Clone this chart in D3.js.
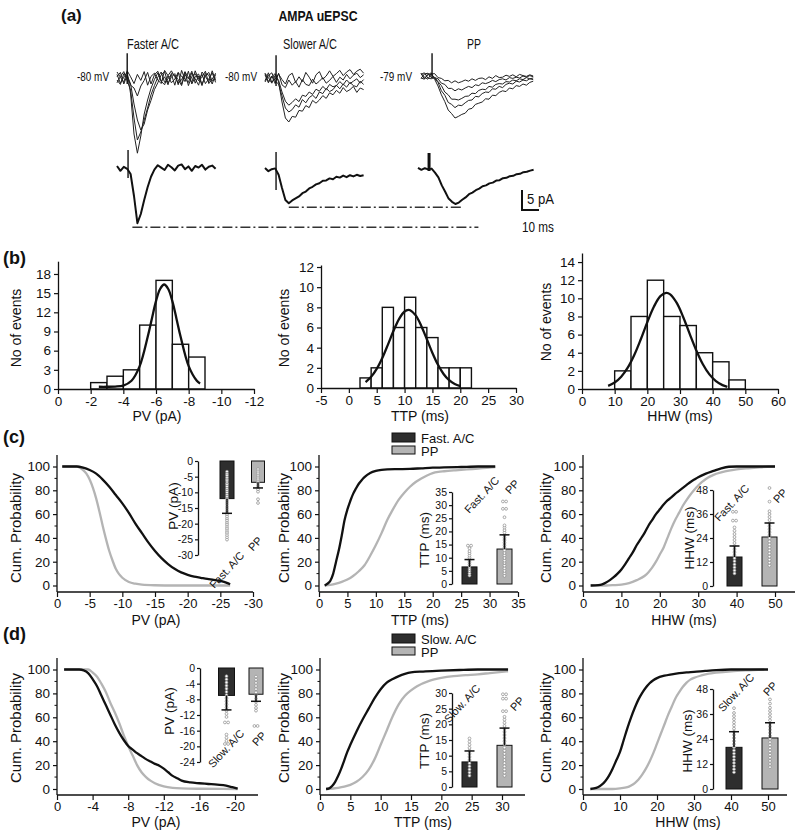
<!DOCTYPE html>
<html><head><meta charset="utf-8">
<script src="https://cdn.jsdelivr.net/npm/d3@7"></script>
<style>
body{margin:0;background:#fff;}
svg{display:block;font-family:"Liberation Sans",Arial,Helvetica,sans-serif;}
</style></head><body>
<svg id="chart" width="800" height="833"></svg>
<script>
// ================= DATA =================
// ---- (a) AMPA uEPSC traces: current (pA) sampled every 2 ms ----
const traceStepMs = 2;
const groupNames = ["Faster A/C", "Slower A/C", "PP"];
const holdingPotentials = ["-80 mV", "-80 mV", "-79 mV"];
const fasterTraces = [
  [0.9,-1.3,0.2,1.5,-4,-14,-18.8,-14.5,-9,-5.5,-2.6,-0.4,1.3,-0.8,-1.7,0.6,1.8,0.3,-1.2,-0.5,1.6,-1.9,0.4,1.1,-0.7,0.2,1.7,-1.4,-0.3,1.2],
  [-1.2,0.4,1.6,-0.7,-3,-10,-15.5,-13.5,-10.5,-7.5,-4.2,-1.9,0.2,1.5,-1.1,-0.2,0.9,-1.8,1.3,0.5,-0.9,1.7,-1.5,0.3,1,-1.6,0.6,1.4,-0.8,0.1],
  [0.3,1.4,-1.5,0.7,-1.5,-6.5,-10.5,-13,-11.5,-8,-5.6,-2.9,-1.2,0.8,1.6,-1.3,0.2,1.1,-1.7,1.9,-0.4,-1.1,1.3,-0.2,-1.8,1.5,0.4,-1,1.8,-0.6],
  [-0.5,-1.6,1.1,0.4,-1.8,-2.5,-4.5,-2,-0.6,1.4,-1.5,0.8,1.7,-0.9,0.3,-1.7,1.2,0.6,-0.4,-1.9,1.5,0.2,-1.1,1.8,-0.3,0.9,-1.4,-0.2,1.3,-1.1],
  [1.5,0.2,-1.1,1.8,0.3,-1.4,0.9,-0.6,1.6,-1.8,0.4,1.2,-0.5,-1.4,1.9,0.6,-1.2,-0.3,1.4,-1.6,0.8,-0.2,1.7,-1.3,0.5,-1.9,1.1,0.7,-1.5,0.9]
];
const fasterMean = [0.5,-0.7,0.3,-0.2,-1.5,-7,-13.8,-11.5,-8,-4.8,-2.2,-0.4,0.7,0.1,-0.5,0.8,0.2,-0.6,0.6,0.9,-0.3,0.4,-0.7,0.5,0.1,0.8,-0.4,0.3,0.6,-0.2];
const slowerTraces = [
  [0.8,-1.2,0.3,1.1,-1,-6,-10,-11,-9.6,-9.8,-8.1,-8.3,-6.9,-7.4,-5.6,-6.3,-5.5,-4.4,-5.1,-3.7,-4.2,-3.1,-3.8,-2.4,-3.4,-2.9,-2.1,-3.6,-2.5,-2.9],
  [-1,0.6,1.3,-0.8,-1.5,-4.5,-7.5,-8.5,-7.9,-6.7,-7.3,-5.4,-6.2,-4.9,-4.3,-5.1,-3.5,-3.9,-2.6,-3.4,-2.9,-1.8,-2.7,-1.5,-2.3,-1.1,-1.9,-2.2,-0.8,-1.6],
  [1.2,0.1,-1.3,0.7,-0.6,-3.5,-5.8,-6.8,-6.1,-5.2,-5.9,-4.3,-4.6,-3.5,-4.1,-2.8,-3.3,-2.1,-2.9,-1.6,-2.2,-1.9,-0.9,-1.7,-0.5,-1.4,-0.8,-0.2,-1.3,-0.4],
  [-0.7,1.3,-1.1,-0.2,1,-0.4,-1.5,0.6,1.2,-1.1,0.3,-0.9,1.4,0.2,-1.3,0.8,1.6,-0.3,0.5,1.8,0.4,1.1,1.9,0.6,1.5,2.1,0.9,1.7,2.2,1.2],
  [1.1,-0.9,0.5,-1.4,1.2,-1.7,-2.4,-0.5,-1.8,-0.9,-2.3,-0.4,-1.6,-1.9,-0.3,-1.5,-0.8,0.1,-1.3,-0.6,0.4,-1.1,0.2,-0.5,0.9,-0.2,0.7,1.2,0.1,0.8]
];
const slowerMean = [0.5,-0.3,0.2,0.4,-1.2,-4.5,-7.5,-8.3,-7.6,-7.1,-6.6,-5.8,-5.4,-4.6,-4.2,-3.6,-3.3,-2.7,-2.6,-2.1,-2.3,-1.7,-1.9,-1.4,-1.8,-1.3,-1.6,-1.2,-1.5,-1.3];
const ppTraces = [
  [0.6,-0.7,0.2,0.8,-0.8,-2.5,-4.7,-6.4,-8.5,-9.4,-10.5,-10.1,-9.6,-9.3,-8.3,-8.1,-7.1,-6.8,-6.5,-5.7,-5.8,-4.8,-4.9,-4.1,-3.7,-3.9,-3,-3.2,-2.4,-2.6,-2,-2.3,-1.6,-1.3],
  [-0.6,0.5,0.7,-0.4,-0.6,-1.6,-3.7,-4.8,-6.6,-7.1,-7.9,-7.3,-7.4,-6.7,-6.1,-6,-5.1,-5.2,-4.4,-4,-4.1,-3.2,-3.3,-2.6,-2.9,-2.1,-1.8,-2,-1.3,-1.5,-1,-1.2,-0.7,-0.9],
  [0.4,0.8,-0.5,-0.7,-0.3,-1.4,-2.4,-4,-4.7,-5.8,-5.8,-6,-5.6,-5.1,-5,-4.3,-4.4,-3.6,-3.3,-3.4,-2.6,-2.8,-2.1,-1.9,-2,-1.4,-1.5,-1,-1.2,-0.7,-0.9,-0.4,-0.7,-0.5],
  [-0.5,-0.8,0.6,0.3,-0.4,-0.7,-1.8,-2.1,-3.1,-3.1,-3.7,-3.2,-3.5,-3,-2.6,-2.9,-2.2,-2.4,-1.7,-1.9,-1.6,-1.1,-1.4,-0.9,-0.7,-1,-0.4,-0.6,-0.3,-0.5,0,-0.3,0.1,-0.2],
  [0.7,-0.3,-0.8,0.5,0.6,-0.4,-0.6,-1.2,-1.1,-1.7,-1.2,-1.7,-1.4,-1,-1.3,-0.7,-1.1,-0.6,-0.5,-0.9,-0.2,-0.6,0.1,-0.4,-0.3,0.2,-0.1,0.3,-0.2,0.4,0.1,-0.1,0.3,0]
];
const ppMean = [0.3,-0.2,0.2,-0.1,0.1,-0.9,-2.1,-4.1,-5.7,-7.4,-8.2,-8.75,-8.4,-7.7,-7.1,-6.3,-5.9,-5.3,-4.9,-4.3,-4.1,-3.6,-3.4,-2.9,-2.8,-2.3,-2.2,-1.8,-1.7,-1.3,-1.2,-0.8,-0.7,-0.4,-0.2];
// stimulus artifacts (ms, pA): faster top/mean, slower top/mean, PP top/mean
const artifactTimes = [6, 6.5, 6.5, 6.5, 6.5, 6.5];
const artifactHigh  = [6.2, 4.5, 5.7, 4.5, 5.7, 4.0];
const artifactLow   = [-1.5, -2.5, -2, -5, -0.5, -0.5];
const scaleBarPA = 5, scaleBarMs = 10;

// ---- (b) histograms ----
const pvBinStarts = [-2,-3,-4,-5,-6,-7,-8];
const pvCounts    = [1,2,3,10,17,7,5];
const ttpBinStarts = [2,4,6,8,10,12,14,16,18,20];
const ttpCounts    = [1,2,8,6,9,6,5,2,2,2];
const hhwBinStarts = [10,15,20,25,30,35,40,45];
const hhwCounts    = [2,8,12,8,7,4,3,1];
const pvFit  = [[-2.5,0.35],[-3,0.35],[-3.5,0.38],[-4,0.54],[-4.5,1.29],[-5,3.58],[-5.5,8.25],[-5.75,11.05],[-6,13.75],[-6.25,15.65],[-6.5,16.35],[-6.75,15.65],[-7,13.75],[-7.25,11.05],[-7.5,8.25],[-8,3.58],[-8.5,1.29],[-8.7,0.87]];
const ttpFit = [[3,0.59],[4,1.11],[5,1.89],[6,2.97],[7,4.28],[8,5.65],[9,6.84],[10,7.59],[10.7,7.75],[11,7.72],[12,7.2],[13,6.16],[14,4.84],[15,3.48],[16,2.3],[17,1.39],[18,0.77],[19,0.39],[20,0.18]];
const hhwFit = [[8,0.35],[10,0.71],[12,1.35],[14,2.35],[16,3.75],[18,5.49],[20,7.37],[22,9.07],[24,10.24],[25.8,10.6],[27,10.44],[29,9.49],[31,7.92],[33,6.05],[35,4.25],[37,2.73],[39,1.61],[41,0.87],[43,0.43],[44.5,0.24]];
const pvTicksB = [0,-2,-4,-6,-8,-10,-12], pvCountTicks = [0,3,6,9,12,15,18];
const ttpTicksB = [-5,0,5,10,15,20,25,30], ttpCountTicks = [0,2,4,6,8,10,12];
const hhwTicksB = [0,10,20,30,40,50,60], hhwCountTicks = [0,2,4,6,8,10,12,14];

// ---- (c) Faster A/C vs PP cumulative probability (value, %) ----
const cPvFast = [[-0.8,100],[-3,100],[-4,99],[-5,97],[-6,94],[-7,89],[-8,83],[-9,76],[-10,69],[-11,61],[-12,52],[-13,44],[-14,36],[-15,29],[-16,23],[-17,18],[-18,14],[-19,11],[-20,9],[-21,7.5],[-22,6.5],[-23,5.5],[-24,4.8],[-25,3.8],[-26,2.2],[-26.5,1]];
const cPvPP   = [[-0.8,100],[-3,100],[-3.5,99],[-4,97],[-4.5,94],[-5,89],[-5.5,82],[-6,73],[-6.5,62],[-7,50],[-7.5,39],[-8,29],[-8.5,21],[-9,14],[-9.5,9.5],[-10,6.5],[-11,3],[-12,1.5],[-13,0.7],[-15,0.2],[-18,0],[-26.5,0]];
const cTtpFast = [[1,0],[1.5,1.5],[2,4],[2.5,10],[3,20],[3.5,30],[4,42],[4.5,55],[5,64],[5.5,71],[6,77],[6.5,81.5],[7,85.5],[7.5,88.5],[8,91],[9,94.5],[10,96.3],[11,97.2],[12,97.6],[14,97.8],[16,98],[18,98.5],[20,99],[22,99.2],[25,99.6],[28,100],[31,100]];
const cTtpPP   = [[1,0],[2,0.5],[3,1.5],[4,3],[5,5],[6,8],[7,12],[8,17],[9,25],[10,34],[11,44],[12,55],[13,64],[14,72],[15,78],[16,83],[17,87],[18,90],[19,92.5],[20,94.5],[21,95.5],[22,96],[24,96.8],[26,97.5],[28,98.3],[30,99],[31,99.5]];
const cHhwFast = [[2,0],[4,0.3],[5,1],[6,2.5],[7,4.5],[8,7],[9,10],[10,13.5],[11,18],[12,23],[13,28],[14,34],[15,39],[16,44],[17,50],[18,55],[19,60],[20,64],[21,68],[22,71.5],[23,74],[24,77],[25,79.5],[26,82],[27,84.5],[28,87],[29,89],[30,91],[32,94],[34,96.3],[36,98.5],[38,99.8],[40,100],[50,100]];
const cHhwPP   = [[2,0],[6,0],[8,0.3],[10,0.8],[12,2],[14,4.5],[16,8],[17,11],[18,15],[19,20],[20,26],[21,32],[22,40],[23,48],[24,55],[25,61],[26,67],[27,72],[28,76.5],[29,80.5],[30,84],[31,87],[32,89.5],[33,91.5],[34,93],[36,95],[38,96.5],[40,97.5],[43,98.5],[46,99.3],[50,100]];
// inset bars (mean, mean+SD) and individual events
const cPvBar  = {fast:[-12,-16.7], pp:[-6.8,-8.6]};
const cTtpBar = {fast:[6.5,9.3], pp:[13.3,18.7]};
const cHhwBar = {fast:[14.5,20], pp:[24.5,31.5]};
const cPvDotsFast = [-3.4,-4.1,-4.6,-5.3,-5.9,-6.4,-7.1,-7.6,-8.2,-8.9,-9.5,-10.1,-10.8,-11.4,-12.0,-12.7,-13.3,-13.9,-14.6,-15.2,-15.9,-16.5,-17.2,-17.8,-18.5,-19.1,-19.8,-20.4,-21.1,-21.7,-22.4,-23.0,-23.7,-24.4,-25.1];
const cPvDotsPP   = [-2.6,-3.3,-3.9,-4.6,-5.2,-5.8,-6.5,-7.1,-7.8,-8.4,-9.1,-9.8,-12.2,-13.4];
const cTtpDotsFast = [3.2,4.0,4.9,5.7,6.6,7.4,8.3,9.1,10.0,10.8,11.7,12.5,13.6,14.6,14.6];
const cTtpDotsPP   = [3.1,4.1,5.0,6.0,7.0,8.0,8.9,9.9,10.9,11.8,12.8,13.8,14.7,15.7,16.7,17.6,18.6,19.6,20.5,21.5,22.3,25.4,28.6,28.6,31.4,31.4];
const cHhwDotsFast = [6.3,7.8,9.3,10.8,12.4,13.9,15.4,16.9,18.4,20.0,21.5,23.0,24.5,26.0,27.6,29.3,32.7,32.7,37.1,37.1];
const cHhwDotsPP   = [10.2,11.7,13.2,14.7,16.3,17.8,19.3,20.8,22.3,23.9,25.4,26.9,28.4,29.9,31.4,33.0,34.5,36.0,37.4,42.2,49.0];

// ---- (d) Slower A/C vs PP ----
const dPvSlow = [[-0.8,100],[-2.5,100],[-3,99.3],[-3.5,97],[-4,92],[-4.5,86],[-5,78],[-5.5,70],[-6,62],[-6.5,54],[-7,47],[-7.5,41],[-8,36],[-8.5,33],[-9,30],[-9.5,27.5],[-10,25],[-10.5,23],[-11,21],[-11.5,19.5],[-12,17],[-12.5,14],[-13,11],[-13.5,9],[-14,7],[-15,5.5],[-16,4.8],[-17,4.2],[-18,3.6],[-19,2.8],[-19.7,1.5],[-20.3,0.3]];
const dPvPP   = [[-0.8,100],[-3.5,100],[-4,97.5],[-4.5,94],[-5,88],[-5.5,81],[-6,72],[-6.5,64],[-7,55],[-7.5,45],[-8,36],[-8.5,28],[-9,20],[-9.5,14],[-10,10],[-10.5,7],[-11,4.8],[-12,2.2],[-13,1],[-14,0.5],[-16,0.2],[-20.3,0]];
const dTtpSlow = [[1,0],[1.5,0.5],[2,2.5],[2.5,6],[3,11],[3.5,17],[4,24],[4.5,31],[5,37],[6,48],[7,58],[8,67],[9,76],[10,83.5],[11,89],[12,92],[13,94.5],[14,96.3],[15,97.5],[17,98.3],[20,99],[23,99.6],[26,100],[31,100]];
const dTtpPP   = [[1,0],[3,1],[4,2],[5,3.5],[6,6],[7,10],[8,16],[9,25],[10,37],[11,49],[12,61],[13,71],[14,78],[15,82.5],[16,86],[18,90.5],[20,93],[22,94.5],[24,95.3],[26,96],[28,97],[31,98.5]];
const dHhwSlow = [[2,0],[3,0.5],[4,1.5],[5,3.5],[6,6.5],[7,11],[8,17],[9,24],[10,31],[11,41],[12,51],[13,60],[14,68],[15,75],[16,80.5],[17,85],[18,88.5],[19,91],[20,92.8],[22,94.8],[24,96],[26,97],[28,97.6],[30,98],[33,98.8],[36,99.5],[40,100],[50,100]];
const dHhwPP   = [[2,0],[8,0],[10,0.5],[12,1.5],[13,3],[14,5],[15,8],[16,12],[17,17],[18,23],[19,30],[20,38],[21,46],[22,54],[23,62],[24,69],[25,76],[26,81],[27,85.5],[28,89],[29,91.5],[30,93],[32,95],[34,96.5],[36,97.3],[40,98.5],[44,99.3],[49,100]];
const dPvBar  = {slow:[-7,-10.7], pp:[-6.7,-8.5]};
const dTtpBar = {slow:[8,11.5], pp:[13.3,18.8]};
const dHhwBar = {slow:[20,27.5], pp:[24.5,31.8]};
const dPvDotsSlow = [-2.1,-2.9,-3.7,-4.5,-5.3,-6.1,-6.9,-7.7,-8.5,-9.3,-10.1,-10.9,-11.7,-12.5,-13.9,-13.9,-17.0,-17.8,-18.6,-19.4,-19.4];
const dPvDotsPP   = [-2.2,-3.0,-3.8,-4.6,-5.4,-6.2,-7.0,-7.8,-8.6,-9.4,-10.2,-10.9,-14.8,-14.8];
const dTtpDotsSlow = [3.6,4.6,5.6,6.6,7.6,8.6,9.6,10.6,11.6,12.5,13.5,14.5,15.5];
const dTtpDotsPP   = [3.6,4.6,5.6,6.6,7.6,8.6,9.6,10.6,11.6,12.6,13.6,14.6,15.6,16.6,17.6,18.6,19.5,20.5,21.5,22.4,24.2,24.2,28.2,28.2,29.6,29.6];
const dHhwDotsSlow = [8.0,9.5,11.0,12.5,14.0,15.5,17.0,18.5,20.0,21.5,23.0,24.5,26.0,27.5,29.0,30.5,32.0,33.5,35.0,36.5,38.8];
const dHhwDotsPP   = [10.5,12.0,13.5,15.0,16.5,18.0,19.5,21.0,22.5,24.0,25.5,27.0,28.5,30.0,31.5,33.0,34.5,36.0,37.5,39.0,41.0,43.0];

const cumTicks = [0,20,40,60,80,100];
const cumMinorTicks = [10,30,50,70,90];

// ================= DRAWING =================
const FONT = '"Liberation Sans", Arial, Helvetica, sans-serif';
const INK = '#111';
const DARK = '#2e2e2e', LIGHT = '#b4b4b4';
const svg = d3.select('#chart');
svg.append('rect').attr('width',800).attr('height',833).attr('fill','#fff');

function addText(x, y, str, o = {}) {
  const t = svg.append('text').attr('x', x).attr('y', y)
    .attr('font-size', o.size || 14).attr('text-anchor', o.anchor || 'start')
    .attr('font-weight', o.weight || 'normal').attr('fill', INK).text(str);
  if (o.rotate) t.attr('transform', `rotate(${o.rotate},${x},${y})`);
  if (o.len) t.attr('textLength', o.len).attr('lengthAdjust', 'spacingAndGlyphs');
  return t;
}
function styleAxis(g, size) {
  g.attr('font-family', FONT).attr('font-size', size);
  g.selectAll('text').attr('fill', INK);
  g.selectAll('line').attr('stroke', INK).attr('stroke-width', 1.2);
  g.selectAll('path').attr('stroke', INK).attr('stroke-width', 1.3);
}
function vline(x, y1, y2, w = 1.3) {
  svg.append('line').attr('x1', x).attr('x2', x).attr('y1', y1).attr('y2', y2).attr('stroke', INK).attr('stroke-width', w);
}
function hline(x1, x2, y, w = 1.3) {
  svg.append('line').attr('x1', x1).attr('x2', x2).attr('y1', y).attr('y2', y).attr('stroke', INK).attr('stroke-width', w);
}

// ---------- (a) ----------
addText(61, 21, '(a)', {size: 17, weight: 'bold'});
addText(318, 21, 'AMPA uEPSC', {size: 14, weight: 'bold', anchor: 'middle', len: 79});
const tScale = d3.scaleLinear().domain([0, scaleBarMs]).range([0, 17]);
const aScale = d3.scaleLinear().domain([0, -scaleBarPA]).range([0, 20]);
const groups = [
  {traces: fasterTraces, mean: fasterMean, top: [117, 78], bot: [117, 168], name: [127, 49, 52], hp: [77, 81, 32]},
  {traces: slowerTraces, mean: slowerMean, top: [265, 78], bot: [265, 170], name: [283, 49, 54], hp: [225, 81, 32]},
  {traces: ppTraces, mean: ppMean, top: [421, 76], bot: [418, 169], name: [467, 49, 14], hp: [380, 81, 32]}
];
function traceLine(x0, y0) {
  return d3.line().x((d, i) => x0 + tScale(i * traceStepMs)).y(d => y0 + aScale(d));
}
groups.forEach((g, gi) => {
  addText(g.name[0], g.name[1], groupNames[gi], {size: 14, len: g.name[2]});
  addText(g.hp[0], g.hp[1], holdingPotentials[gi], {size: 13.5, len: g.hp[2]});
  const lt = traceLine(g.top[0], g.top[1]);
  g.traces.forEach(tr => svg.append('path').attr('d', lt(tr)).attr('fill', 'none')
    .attr('stroke', '#222').attr('stroke-width', 1).attr('stroke-linejoin', 'round'));
  const lm = traceLine(g.bot[0], g.bot[1]);
  svg.append('path').attr('d', lm(g.mean)).attr('fill', 'none')
    .attr('stroke', INK).attr('stroke-width', 2).attr('stroke-linejoin', 'round');
  [[g.top, gi * 2], [g.bot, gi * 2 + 1]].forEach(([p, k]) => {
    vline(p[0] + tScale(artifactTimes[k]), p[1] + aScale(artifactHigh[k]), p[1] + aScale(artifactLow[k]), k === 5 ? 3 : 1.4);
  });
});
function peakOf(arr, x0, y0) {
  const i = d3.minIndex(arr);
  return [x0 + tScale(i * traceStepMs), y0 + aScale(arr[i])];
}
const slowPk = peakOf(slowerMean, 265, 170), ppPk = peakOf(ppMean, 418, 169), fastPk = peakOf(fasterMean, 117, 168);
svg.append('line').attr('x1', slowPk[0]).attr('x2', ppPk[0] + 7).attr('y1', slowPk[1] + 4).attr('y2', slowPk[1] + 4)
  .attr('stroke', '#333').attr('stroke-width', 1.4).attr('stroke-dasharray', '10,3,2,3');
svg.append('line').attr('x1', fastPk[0] - 5).attr('x2', ppPk[0] + 23).attr('y1', fastPk[1] + 4).attr('y2', fastPk[1] + 4)
  .attr('stroke', '#333').attr('stroke-width', 1.4).attr('stroke-dasharray', '10,3,2,3');
vline(522, 210 - aScale(-scaleBarPA), 210, 2);
hline(521, 522 + tScale(scaleBarMs), 210, 2);
addText(527, 204, scaleBarPA + ' pA', {size: 14, len: 27});
addText(522, 232, scaleBarMs + ' ms', {size: 14, len: 32});

// ---------- (b) histograms ----------
addText(3, 264, '(b)', {size: 18, weight: 'bold'});
function histogram(c) {
  const {xs, ys, starts, counts, w, fit, xTicks, yTicks} = c;
  const g = svg.append('g');
  g.selectAll('rect').data(starts).join('rect')
    .attr('x', s => Math.min(xs(s), xs(s + w)))
    .attr('width', s => Math.abs(xs(s + w) - xs(s)))
    .attr('y', (s, i) => ys(counts[i]))
    .attr('height', (s, i) => ys(0) - ys(counts[i]))
    .attr('fill', '#fff').attr('stroke', INK).attr('stroke-width', 1.4);
  const ax = svg.append('g').attr('transform', `translate(0,${ys(0)})`)
    .call(d3.axisBottom(xs).tickValues(xTicks).tickSize(5).tickPadding(2).tickSizeOuter(0).tickFormat(String));
  styleAxis(ax, 13.5);
  const ay = svg.append('g').attr('transform', `translate(${xs.range()[0]},0)`)
    .call(d3.axisLeft(ys).tickValues(yTicks).tickSize(4).tickPadding(3).tickSizeOuter(0).tickFormat(String));
  styleAxis(ay, 13.5);
  svg.append('path').attr('d', d3.line().x(d => xs(d[0])).y(d => ys(d[1])).curve(d3.curveCatmullRom)(fit))
    .attr('fill', 'none').attr('stroke', INK).attr('stroke-width', 2.3);
  addText(c.ylab[0], c.ylab[1], 'No of events', {size: 14, anchor: 'middle', rotate: -90});
  addText(c.xlab[0], c.xlab[1], c.xLabel, {size: 14, anchor: 'middle'});
}
histogram({xs: d3.scaleLinear().domain([0, -12]).range([58, 254]), ys: d3.scaleLinear().domain([0, 20]).range([389, 261.2]),
  starts: pvBinStarts, counts: pvCounts, w: -1, fit: pvFit, xTicks: pvTicksB, yTicks: pvCountTicks,
  ylab: [21, 328], xlab: [157, 421], xLabel: 'PV (pA)'});
histogram({xs: d3.scaleLinear().domain([-5, 30]).range([321, 516]), ys: d3.scaleLinear().domain([0, 12.2]).range([388, 265]),
  starts: ttpBinStarts, counts: ttpCounts, w: 2, fit: ttpFit, xTicks: ttpTicksB, yTicks: ttpCountTicks,
  ylab: [289, 328], xlab: [420, 421], xLabel: 'TTP (ms)'});
histogram({xs: d3.scaleLinear().domain([0, 60]).range([582, 778]), ys: d3.scaleLinear().domain([0, 15]).range([389, 253]),
  starts: hhwBinStarts, counts: hhwCounts, w: 5, fit: hhwFit, xTicks: hhwTicksB, yTicks: hhwCountTicks,
  ylab: [551, 322], xlab: [680, 421], xLabel: 'HHW (ms)'});

// ---------- (c)/(d) cumulative panels ----------
function cumPanel(c) {
  const {xs, ys, axisY, yTop, xEnd, xTicks, black, gray} = c;
  const x0 = xs(0);
  const ay = svg.append('g').attr('transform', `translate(${x0},0)`)
    .call(d3.axisLeft(ys).tickValues(cumTicks).tickSize(4).tickPadding(3).tickFormat(String));
  ay.select('.domain').remove();
  styleAxis(ay, 13.5);
  vline(x0, axisY, yTop);
  cumMinorTicks.forEach(v => hline(x0 - 2.5, x0, ys(v), 1));
  const ax = svg.append('g').attr('transform', `translate(0,${axisY})`)
    .call(d3.axisBottom(xs).tickValues(xTicks).tickSize(5).tickPadding(2).tickFormat(String));
  ax.select('.domain').remove();
  styleAxis(ax, 13);
  hline(x0, xEnd, axisY);
  const line = d3.line().x(d => xs(d[0])).y(d => ys(d[1])).curve(d3.curveMonotoneX);
  svg.append('path').attr('d', line(gray)).attr('fill', 'none').attr('stroke', LIGHT).attr('stroke-width', 2.3);
  svg.append('path').attr('d', line(black)).attr('fill', 'none').attr('stroke', INK).attr('stroke-width', 2.3);
  addText(c.ylab[0], c.ylab[1], 'Cum. Probability', {size: 15, anchor: 'middle', rotate: -90});
  addText(c.xlab[0], c.xlab[1], c.xLabel, {size: 14, anchor: 'middle'});
}
function inset(c) {
  const {axisX, ys, ticks, bars, label, cats} = c;
  bars.forEach(b => {
    svg.append('rect').attr('x', b.c - b.w / 2).attr('width', b.w)
      .attr('y', Math.min(ys(0), ys(b.v[0]))).attr('height', Math.abs(ys(b.v[0]) - ys(0)))
      .attr('fill', b.fill).attr('stroke', INK).attr('stroke-width', 1);
    const seen = {}, counts = {};
    b.dots.forEach(v => counts[v] = (counts[v] || 0) + 1);
    svg.append('g').selectAll('circle').data(b.dots).join('circle')
      .attr('cx', v => { const k = (seen[v] = (seen[v] || 0) + 1) - 1; return b.c + (k - (counts[v] - 1) / 2) * 3.2; })
      .attr('cy', v => ys(v)).attr('r', 1.4)
      .attr('fill', '#fff').attr('stroke', '#8a8a8a').attr('stroke-width', 0.7);
    vline(b.c, ys(b.v[0]), ys(b.v[1]), 1.5);
    hline(b.c - 5, b.c + 5, ys(b.v[1]), 1.5);
  });
  const ay = svg.append('g').attr('transform', `translate(${axisX},0)`)
    .call(d3.axisLeft(ys).tickValues(ticks).tickSize(3).tickPadding(2).tickSizeOuter(0).tickFormat(String));
  styleAxis(ay, 10.5);
  addText(label[0], label[1], label[2], {size: 13.5, anchor: 'middle', rotate: -90});
  cats.forEach(k => addText(k[1], k[2], k[0], {size: 11, anchor: 'end', rotate: -47}));
}

// (c)
addText(3, 443, '(c)', {size: 18, weight: 'bold'});
const cY = d3.scaleLinear().domain([0, 100]).range([585.5, 466.5]);
const dY = d3.scaleLinear().domain([0, 100]).range([789, 669.5]);
cumPanel({xs: d3.scaleLinear().domain([0, -30]).range([57, 253]), ys: cY, axisY: 592, yTop: 455, xEnd: 253,
  xTicks: [0,-5,-10,-15,-20,-25,-30], black: cPvFast, gray: cPvPP, ylab: [21, 528], xlab: [156, 625], xLabel: 'PV (pA)'});
cumPanel({xs: d3.scaleLinear().domain([0, 35]).range([319, 518]), ys: cY, axisY: 592, yTop: 455, xEnd: 518,
  xTicks: [0,5,10,15,20,25,30,35], black: cTtpFast, gray: cTtpPP, ylab: [289, 528], xlab: [420, 625], xLabel: 'TTP (ms)'});
cumPanel({xs: d3.scaleLinear().domain([0, 50]).range([583, 775]), ys: cY, axisY: 592, yTop: 455, xEnd: 795,
  xTicks: [0,10,20,30,40,50], black: cHhwFast, gray: cHhwPP, ylab: [551, 528], xlab: [684, 625], xLabel: 'HHW (ms)'});
inset({axisX: 198, ys: d3.scaleLinear().domain([0, -30]).range([461, 555]), ticks: [0,-5,-10,-15,-20,-25,-30],
  bars: [{c: 227, w: 14, v: cPvBar.fast, fill: DARK, dots: cPvDotsFast}, {c: 258, w: 13, v: cPvBar.pp, fill: LIGHT, dots: cPvDotsPP}],
  label: [178, 506, 'PV (pA)'], cats: [['Fast. A/C', 245, 556], ['PP', 263, 541]]});
inset({axisX: 452, ys: d3.scaleLinear().domain([0, 35]).range([584, 492]), ticks: [0,5,10,15,20,25,30,35],
  bars: [{c: 469.5, w: 15, v: cTtpBar.fast, fill: DARK, dots: cTtpDotsFast}, {c: 504.5, w: 15, v: cTtpBar.pp, fill: LIGHT, dots: cTtpDotsPP}],
  label: [429, 540, 'TTP (ms)'], cats: [['Fast. A/C', 500, 481], ['PP', 520, 484]]});
inset({axisX: 713, ys: d3.scaleLinear().domain([0, 48]).range([586, 490]), ticks: [0,12,24,36,48],
  bars: [{c: 734.5, w: 15, v: cHhwBar.fast, fill: DARK, dots: cHhwDotsFast}, {c: 769.5, w: 15, v: cHhwBar.pp, fill: LIGHT, dots: cHhwDotsPP}],
  label: [694, 538, 'HHW (ms)'], cats: [['Fast. A/C', 750, 489], ['PP', 788, 493]]});

function legend(y, name) {
  svg.append('rect').attr('x', 392).attr('y', y).attr('width', 23).attr('height', 9).attr('fill', DARK).attr('stroke', INK).attr('stroke-width', 1);
  svg.append('rect').attr('x', 392).attr('y', y + 13).attr('width', 23).attr('height', 8).attr('fill', LIGHT).attr('stroke', INK).attr('stroke-width', 1);
  addText(421, y + 9.5, name, {size: 13});
  addText(421, y + 23, 'PP', {size: 13});
}
legend(433, 'Fast. A/C');

// (d)
addText(3, 640, '(d)', {size: 18, weight: 'bold'});
cumPanel({xs: d3.scaleLinear().domain([0, -20]).range([57, 235]), ys: dY, axisY: 795, yTop: 658, xEnd: 258,
  xTicks: [0,-4,-8,-12,-16,-20], black: dPvSlow, gray: dPvPP, ylab: [21, 728], xlab: [156, 827], xLabel: 'PV (pA)'});
cumPanel({xs: d3.scaleLinear().domain([0, 30]).range([320, 502]), ys: dY, axisY: 795, yTop: 658, xEnd: 525,
  xTicks: [0,5,10,15,20,25,30], black: dTtpSlow, gray: dTtpPP, ylab: [289, 728], xlab: [423, 827], xLabel: 'TTP (ms)'});
cumPanel({xs: d3.scaleLinear().domain([0, 50]).range([583, 768]), ys: dY, axisY: 795, yTop: 658, xEnd: 787,
  xTicks: [0,10,20,30,40,50], black: dHhwSlow, gray: dHhwPP, ylab: [551, 728], xlab: [688, 827], xLabel: 'HHW (ms)'});
inset({axisX: 200, ys: d3.scaleLinear().domain([0, -24]).range([668, 762]), ticks: [0,-4,-8,-12,-16,-20,-24],
  bars: [{c: 226.5, w: 16, v: dPvBar.slow, fill: DARK, dots: dPvDotsSlow}, {c: 256, w: 14, v: dPvBar.pp, fill: LIGHT, dots: dPvDotsPP}],
  label: [174, 711, 'PV (pA)'], cats: [['Slow. A/C', 245, 734], ['PP', 267, 736]]});
inset({axisX: 452, ys: d3.scaleLinear().domain([0, 30]).range([787, 693]), ticks: [0,5,10,15,20,25,30],
  bars: [{c: 469.5, w: 15, v: dTtpBar.slow, fill: DARK, dots: dTtpDotsSlow}, {c: 504.5, w: 15, v: dTtpBar.pp, fill: LIGHT, dots: dTtpDotsPP}],
  label: [429, 741, 'TTP (ms)'], cats: [['Slow. A/C', 481, 689], ['PP', 525, 701]]});
inset({axisX: 713, ys: d3.scaleLinear().domain([0, 48]).range([789, 689]), ticks: [0,12,24,36,48],
  bars: [{c: 734, w: 16, v: dHhwBar.slow, fill: DARK, dots: dHhwDotsSlow}, {c: 770, w: 16, v: dHhwBar.pp, fill: LIGHT, dots: dHhwDotsPP}],
  label: [692, 741, 'HHW (ms)'], cats: [['Slow. A/C', 755, 678], ['PP', 778, 686]]});
legend(634, 'Slow. A/C');
</script>
</body></html>
